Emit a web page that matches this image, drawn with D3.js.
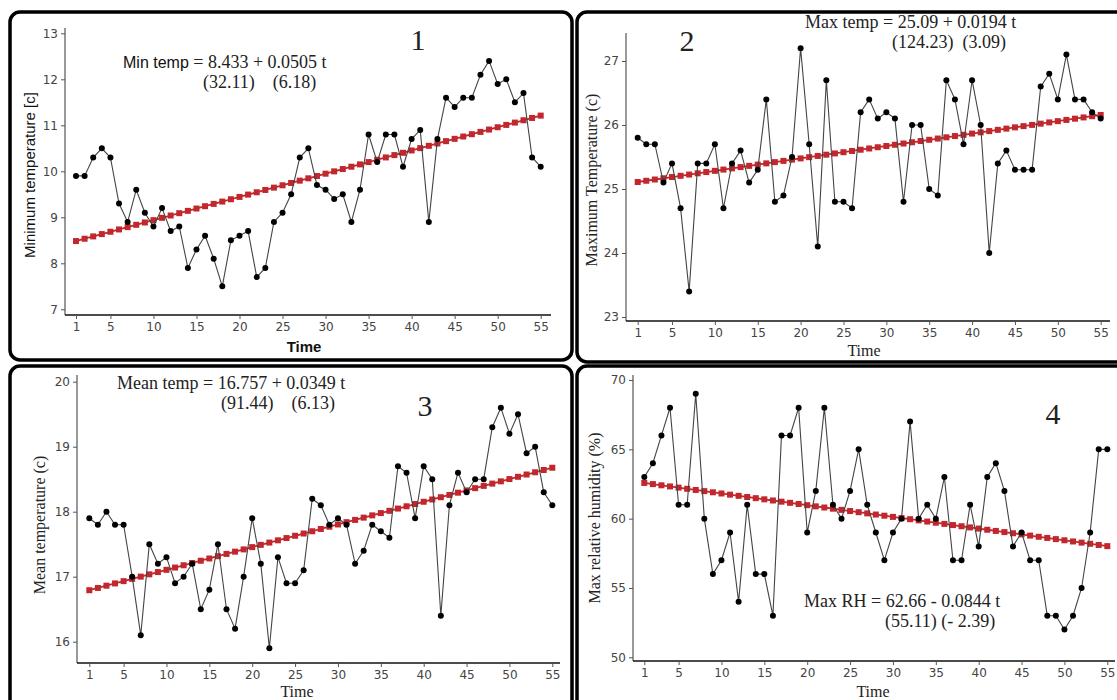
<!DOCTYPE html>
<html>
<head>
<meta charset="utf-8">
<script src="https://cdn.jsdelivr.net/npm/d3@7"></script>
<style>
  body { margin: 0; background: #fff; }
  .tick text { font-family: "DejaVu Sans", sans-serif; font-size: 12px; fill: #444; }
  .serif { font-family: "Liberation Serif", "Times New Roman", serif; fill: #222; }
  .sans { font-family: "Liberation Sans", Arial, sans-serif; fill: #111; }
</style>
</head>
<body>
<svg id="chart" width="1117" height="700"></svg>
<script>
// time index 1..55
const time = d3.range(1, 56);
const timeTicks = [1, 5, 10, 15, 20, 25, 30, 35, 40, 45, 50, 55];

const minTemp = [9.9, 9.9, 10.3, 10.5, 10.3, 9.3, 8.9, 9.6, 9.1, 8.8,
  9.2, 8.7, 8.8, 7.9, 8.3, 8.6, 8.1, 7.5, 8.5, 8.6,
  8.7, 7.7, 7.9, 8.9, 9.1, 9.5, 10.3, 10.5, 9.7, 9.6,
  9.4, 9.5, 8.9, 9.6, 10.8, 10.2, 10.8, 10.8, 10.1, 10.7,
  10.9, 8.9, 10.7, 11.6, 11.4, 11.6, 11.6, 12.1, 12.4, 11.9,
  12.0, 11.5, 11.7, 10.3, 10.1];
const maxTemp = [25.8, 25.7, 25.7, 25.1, 25.4, 24.7, 23.4, 25.4, 25.4, 25.7,
  24.7, 25.4, 25.6, 25.1, 25.3, 26.4, 24.8, 24.9, 25.5, 27.2,
  25.7, 24.1, 26.7, 24.8, 24.8, 24.7, 26.2, 26.4, 26.1, 26.2,
  26.1, 24.8, 26.0, 26.0, 25.0, 24.9, 26.7, 26.4, 25.7, 26.7,
  26.0, 24.0, 25.4, 25.6, 25.3, 25.3, 25.3, 26.6, 26.8, 26.4,
  27.1, 26.4, 26.4, 26.2, 26.1];
const meanTemp = [17.9, 17.8, 18.0, 17.8, 17.8, 17.0, 16.1, 17.5, 17.2, 17.3,
  16.9, 17.0, 17.2, 16.5, 16.8, 17.5, 16.5, 16.2, 17.0, 17.9,
  17.2, 15.9, 17.3, 16.9, 16.9, 17.1, 18.2, 18.1, 17.8, 17.9,
  17.8, 17.2, 17.4, 17.8, 17.7, 17.6, 18.7, 18.6, 17.9, 18.7,
  18.5, 16.4, 18.1, 18.6, 18.3, 18.5, 18.5, 19.3, 19.6, 19.2,
  19.5, 18.9, 19.0, 18.3, 18.1];
const maxRH = [63, 64, 66, 68, 61, 61, 69, 60, 56, 57,
  59, 54, 61, 56, 56, 53, 66, 66, 68, 59,
  62, 68, 61, 60, 62, 65, 61, 59, 57, 59,
  60, 67, 60, 61, 60, 63, 57, 57, 61, 58,
  63, 64, 62, 58, 59, 57, 57, 53, 53, 52,
  53, 55, 59, 65, 65];

// fitted trend lines (intercept, slope) as printed on the chart
const minTrend = [8.433, 0.0505];
const maxTrend = [25.09, 0.0194];
const meanTrend = [16.757, 0.0349];
const rhTrend = [62.66, -0.0844];

const minTicks = [7, 8, 9, 10, 11, 12, 13];
const maxTicks = [23, 24, 25, 26, 27];
const meanTicks = [16, 17, 18, 19, 20];
const rhTicks = [50, 55, 60, 65, 70];

const svg = d3.select('#chart');

// panel frames
const frames = [[10, 12, 562, 348], [577, 12, 560, 350], [10, 366, 562, 360], [577, 366, 560, 360]];
svg.selectAll('rect.frame').data(frames).enter().append('rect')
  .attr('class', 'frame')
  .attr('x', d => d[0]).attr('y', d => d[1])
  .attr('width', d => d[2]).attr('height', d => d[3])
  .attr('rx', 10)
  .attr('fill', 'none').attr('stroke', '#000').attr('stroke-width', 3.5);

function drawPanel(p) {
  const x = d3.scaleLinear().domain([1, 55]).range(p.xr);
  const y = d3.scaleLinear().domain(p.yd).range(p.yr);
  const g = svg.append('g');

  // axes lines
  g.append('line').attr('x1', p.ax).attr('x2', p.ax).attr('y1', p.axTop).attr('y2', p.ay)
    .attr('stroke', '#555').attr('stroke-width', 1.2);
  g.append('line').attr('x1', p.ax).attr('x2', p.axRight).attr('y1', p.ay).attr('y2', p.ay)
    .attr('stroke', '#111').attr('stroke-width', 1.5);

  const yAxis = g.append('g').attr('transform', `translate(${p.ax},0)`)
    .call(d3.axisLeft(y).tickValues(p.ticks).tickSize(4).tickPadding(3).tickFormat(d3.format('d')));
  yAxis.select('.domain').remove();
  yAxis.selectAll('line').attr('stroke', '#555');

  const xAxis = g.append('g').attr('transform', `translate(0,${p.ay})`)
    .call(d3.axisBottom(x).tickValues(timeTicks).tickSize(4).tickPadding(3));
  xAxis.select('.domain').remove();
  xAxis.selectAll('line').attr('stroke', '#555');

  // trend
  const trend = time.map(t => [t, p.trend[0] + p.trend[1] * t]);
  g.append('path').datum(trend)
    .attr('d', d3.line().x(d => x(d[0])).y(d => y(d[1])))
    .attr('fill', 'none').attr('stroke', '#c1272d').attr('stroke-width', 1.8);
  g.selectAll('.sq').data(trend).enter().append('rect')
    .attr('x', d => x(d[0]) - 3).attr('y', d => y(d[1]) - 3)
    .attr('width', 6).attr('height', 6).attr('fill', '#c1272d');

  // series
  g.append('path').datum(p.values)
    .attr('d', d3.line().x((d, i) => x(time[i])).y(d => y(d)))
    .attr('fill', 'none').attr('stroke', '#444').attr('stroke-width', 1.1);
  g.selectAll('.dot').data(p.values).enter().append('circle')
    .attr('cx', (d, i) => x(time[i])).attr('cy', d => y(d))
    .attr('r', 3).attr('fill', '#000');

  // labels
  g.append('text').attr('class', p.timeBold ? 'sans' : 'serif')
    .attr('x', p.timeX).attr('y', p.timeY).attr('text-anchor', 'middle')
    .style('font-size', p.timeBold ? '15px' : '16px')
    .style('font-weight', p.timeBold ? 'bold' : 'normal')
    .text('Time');
  g.append('text').attr('class', p.ylabSans ? 'sans' : 'serif')
    .attr('transform', `translate(${p.ylabX},${p.ylabY}) rotate(-90)`)
    .attr('text-anchor', 'middle')
    .style('font-size', p.ylabSans ? '15px' : '16px')
    .text(p.ylabel);
  g.append('text').attr('class', 'serif')
    .attr('x', p.numX).attr('y', p.numY).attr('text-anchor', 'middle')
    .style('font-size', '30px').text(p.num);

  const eq = g.append('text').attr('class', 'serif')
    .attr('x', p.eqX).attr('y', p.eqY).style('font-size', '18px');
  if (p.eqSans) {
    eq.append('tspan').attr('class', 'sans').style('font-size', '16px').text(p.eqSans);
  }
  eq.append('tspan').text(p.eq);
  g.append('text').attr('class', 'serif')
    .attr('x', p.eq2X).attr('y', p.eqY + 20).style('font-size', '18px')
    .attr('xml:space', 'preserve').style('white-space', 'pre')
    .text(p.eq2);
}

drawPanel({
  values: minTemp, trend: minTrend, ticks: minTicks, yd: [7, 13],
  xr: [76, 540.7], yr: [309.3, 33.3], ax: 65, ay: 315, axTop: 28, axRight: 551,
  timeX: 304, timeY: 352, timeBold: true,
  ylabel: 'Minimum temperature [c]', ylabX: 35, ylabY: 175, ylabSans: true,
  num: '1', numX: 418, numY: 50,
  eqSans: 'Min temp', eq: ' = 8.433 + 0.0505 t', eqX: 123, eqY: 68,
  eq2: '(32.11)    (6.18)', eq2X: 203
});
drawPanel({
  values: maxTemp, trend: maxTrend, ticks: maxTicks, yd: [23, 27],
  xr: [637.7, 1100.7], yr: [317, 61], ax: 626, ay: 321, axTop: 33, axRight: 1110,
  timeX: 864, timeY: 356,
  ylabel: 'Maximum Temperature (c)', ylabX: 597, ylabY: 180,
  num: '2', numX: 687, numY: 51,
  eq: 'Max temp = 25.09 + 0.0194 t', eqX: 805, eqY: 28,
  eq2: '(124.23)  (3.09)', eq2X: 892
});
drawPanel({
  values: meanTemp, trend: meanTrend, ticks: meanTicks, yd: [16, 20],
  xr: [89.3, 552.3], yr: [641.7, 381.7], ax: 77, ay: 663, axTop: 375, axRight: 560,
  timeX: 297, timeY: 697,
  ylabel: 'Mean temperature (c)', ylabX: 45, ylabY: 525,
  num: '3', numX: 425, numY: 416,
  eq: 'Mean temp = 16.757 + 0.0349 t', eqX: 117, eqY: 389,
  eq2: '(91.44)    (6.13)', eq2X: 221
});
drawPanel({
  values: maxRH, trend: rhTrend, ticks: rhTicks, yd: [50, 70],
  xr: [644.3, 1107.3], yr: [657.3, 380], ax: 633, ay: 661, axTop: 375, axRight: 1115,
  timeX: 873, timeY: 697,
  ylabel: 'Max relative humidity (%)', ylabX: 600, ylabY: 518,
  num: '4', numX: 1053, numY: 424,
  eq: 'Max RH = 62.66 - 0.0844 t', eqX: 804, eqY: 607,
  eq2: '(55.11) (- 2.39)', eq2X: 885
});
</script>
</body>
</html>
